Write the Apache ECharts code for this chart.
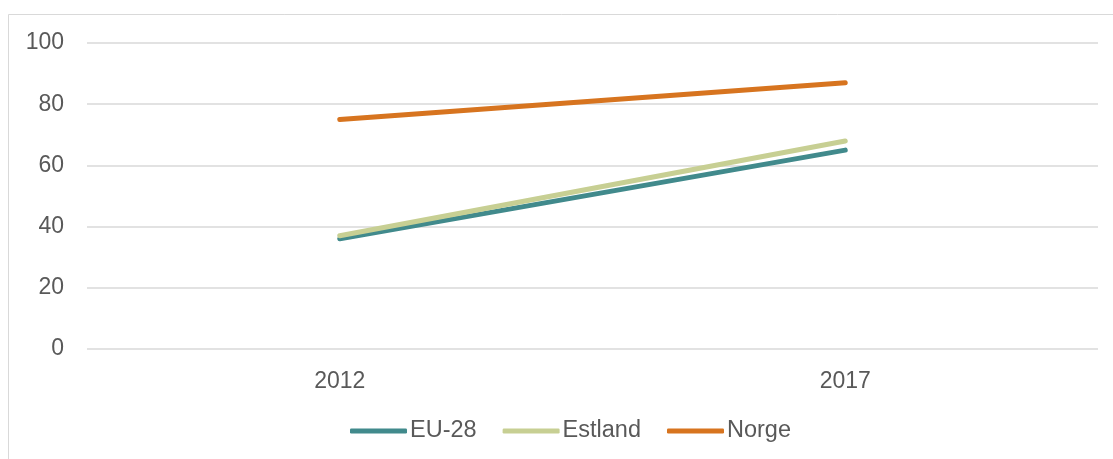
<!DOCTYPE html>
<html>
<head>
<meta charset="utf-8">
<script src="https://cdn.jsdelivr.net/npm/echarts@6/dist/echarts.min.js"></script>
<style>
html,body{margin:0;padding:0;background:#fff;}
#chart{width:1113px;height:459px;}
</style>
</head>
<body>
<div id="chart"></div>
<script>
const categories = ['2012', '2017'];
const seriesNames = ['EU-28', 'Estland', 'Norge'];
const eu28 = [36, 65];
const estland = [37, 68];
const norge = [75, 87];
const yTicks = [0, 20, 40, 60, 80, 100];

const colors = ['#418a8c', '#c7cf93', '#d7741f'];
const values = [eu28, estland, norge];

const chart = echarts.init(document.getElementById('chart'), null, {renderer: 'canvas'});
chart.setOption({
  animation: false,
  backgroundColor: '#fff',
  textStyle: {fontFamily: 'Liberation Sans, Arial, sans-serif'},
  graphic: [{
    type: 'rect',
    shape: {x: 8.5, y: 14.5, width: 1200, height: 500},
    style: {fill: 'none', stroke: '#d9d9d9', lineWidth: 1},
    silent: true,
    z: -10
  }],
  grid: {left: 87, right: 15, top: 43, bottom: 110, containLabel: false},
  legend: {
    top: 419,
    left: 350,
    itemWidth: 57,
    itemHeight: 5,
    itemGap: 26,
    icon: 'roundRect',
    padding: 0,
    textStyle: {fontSize: 23.5, color: '#595959', padding: [0, 0, 0, -2]},
    data: seriesNames
  },
  xAxis: {
    type: 'category',
    data: categories,
    boundaryGap: true,
    axisLine: {show: false},
    axisTick: {show: false},
    axisLabel: {fontSize: 23, color: '#595959', margin: 21}
  },
  yAxis: {
    type: 'value',
    min: 0, max: 100, interval: 20,
    axisLine: {show: false},
    axisTick: {show: false},
    axisLabel: {fontSize: 23, color: '#595959', margin: 23},
    splitLine: {lineStyle: {color: '#d9d9d9', width: 1.5}}
  },
  series: seriesNames.map((n, i) => ({
    name: n,
    type: 'line',
    data: values[i],
    symbol: 'none',
    lineStyle: {width: 5, color: colors[i], cap: 'round'},
    itemStyle: {color: colors[i]}
  }))
});
</script>
</body>
</html>
